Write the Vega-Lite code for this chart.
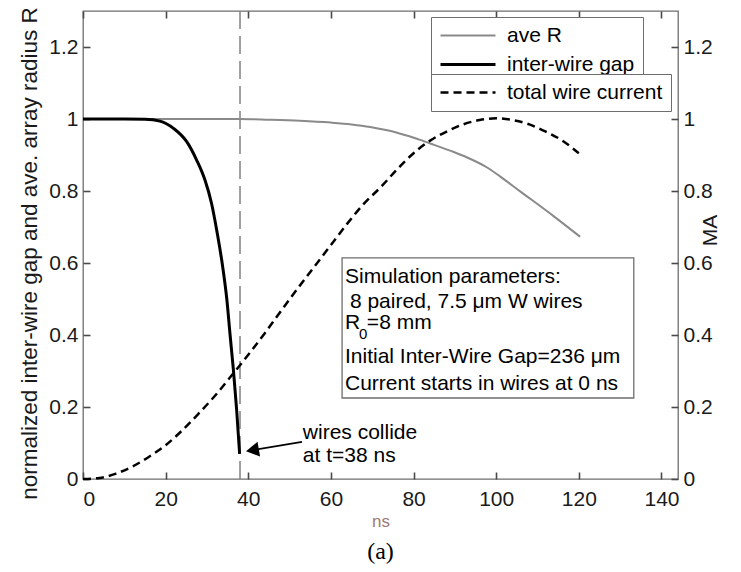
{
  "$schema": "https://vega.github.io/schema/vega-lite/v6.json",
  "width": 595,
  "height": 468,
  "autosize": {"type": "none"},
  "padding": {"left": 83, "top": 11, "right": 63, "bottom": 93},
  "background": "white",
  "title": {"text": "(a)", "orient": "bottom", "font": "Liberation Serif", "fontSize": 24, "fontWeight": "normal", "color": "black", "offset": 10},
  "config": {
    "font": "Liberation Sans",
    "view": {"stroke": "#6e6e6e", "strokeWidth": 1.3},
    "axis": {"grid": false, "domain": false, "labelFontSize": 21, "labelColor": "#1a1a1a", "labelFont": "Liberation Sans", "titleFont": "Liberation Sans", "titleFontWeight": "normal", "titleColor": "#1a1a1a"}
  },
  "datasets": {
    "curves": [
      {"t": 0, "v": 1, "series": "ave R"},
      {"t": 10, "v": 1, "series": "ave R"},
      {"t": 20, "v": 1, "series": "ave R"},
      {"t": 30, "v": 1, "series": "ave R"},
      {"t": 38, "v": 1, "series": "ave R"},
      {"t": 45, "v": 0.998, "series": "ave R"},
      {"t": 52.5, "v": 0.995, "series": "ave R"},
      {"t": 60, "v": 0.99, "series": "ave R"},
      {"t": 65, "v": 0.985, "series": "ave R"},
      {"t": 69.5, "v": 0.978, "series": "ave R"},
      {"t": 73, "v": 0.97, "series": "ave R"},
      {"t": 76, "v": 0.962, "series": "ave R"},
      {"t": 79, "v": 0.952, "series": "ave R"},
      {"t": 81.6, "v": 0.942, "series": "ave R"},
      {"t": 85, "v": 0.928, "series": "ave R"},
      {"t": 89.6, "v": 0.909, "series": "ave R"},
      {"t": 93, "v": 0.893, "series": "ave R"},
      {"t": 97.7, "v": 0.866, "series": "ave R"},
      {"t": 101, "v": 0.84, "series": "ave R"},
      {"t": 105.8, "v": 0.799, "series": "ave R"},
      {"t": 113.8, "v": 0.731, "series": "ave R"},
      {"t": 120.3, "v": 0.673, "series": "ave R"},
      {"t": 0, "v": 1, "series": "inter-wire gap"},
      {"t": 10, "v": 1, "series": "inter-wire gap"},
      {"t": 15, "v": 0.999, "series": "inter-wire gap"},
      {"t": 18.6, "v": 0.994, "series": "inter-wire gap"},
      {"t": 21.9, "v": 0.974, "series": "inter-wire gap"},
      {"t": 25.1, "v": 0.937, "series": "inter-wire gap"},
      {"t": 27.5, "v": 0.886, "series": "inter-wire gap"},
      {"t": 29.5, "v": 0.831, "series": "inter-wire gap"},
      {"t": 31.1, "v": 0.766, "series": "inter-wire gap"},
      {"t": 32.5, "v": 0.682, "series": "inter-wire gap"},
      {"t": 33.8, "v": 0.59, "series": "inter-wire gap"},
      {"t": 34.8, "v": 0.5, "series": "inter-wire gap"},
      {"t": 35.6, "v": 0.4, "series": "inter-wire gap"},
      {"t": 36.4, "v": 0.303, "series": "inter-wire gap"},
      {"t": 37.2, "v": 0.19, "series": "inter-wire gap"},
      {"t": 37.9, "v": 0.07, "series": "inter-wire gap"}
    ],
    "current": [
      {"t": 0, "v": 0, "series": "total wire current"},
      {"t": 4, "v": 0.003, "series": "total wire current"},
      {"t": 8, "v": 0.015, "series": "total wire current"},
      {"t": 12, "v": 0.035, "series": "total wire current"},
      {"t": 16, "v": 0.062, "series": "total wire current"},
      {"t": 20, "v": 0.094, "series": "total wire current"},
      {"t": 24, "v": 0.135, "series": "total wire current"},
      {"t": 28, "v": 0.182, "series": "total wire current"},
      {"t": 32, "v": 0.232, "series": "total wire current"},
      {"t": 36, "v": 0.288, "series": "total wire current"},
      {"t": 40, "v": 0.345, "series": "total wire current"},
      {"t": 44, "v": 0.405, "series": "total wire current"},
      {"t": 48, "v": 0.468, "series": "total wire current"},
      {"t": 52, "v": 0.53, "series": "total wire current"},
      {"t": 56, "v": 0.59, "series": "total wire current"},
      {"t": 60, "v": 0.65, "series": "total wire current"},
      {"t": 64, "v": 0.71, "series": "total wire current"},
      {"t": 68, "v": 0.765, "series": "total wire current"},
      {"t": 72, "v": 0.81, "series": "total wire current"},
      {"t": 76, "v": 0.86, "series": "total wire current"},
      {"t": 80, "v": 0.905, "series": "total wire current"},
      {"t": 84, "v": 0.94, "series": "total wire current"},
      {"t": 88, "v": 0.965, "series": "total wire current"},
      {"t": 92, "v": 0.985, "series": "total wire current"},
      {"t": 96, "v": 0.997, "series": "total wire current"},
      {"t": 100, "v": 1.002, "series": "total wire current"},
      {"t": 104, "v": 0.997, "series": "total wire current"},
      {"t": 108, "v": 0.985, "series": "total wire current"},
      {"t": 112, "v": 0.965, "series": "total wire current"},
      {"t": 116, "v": 0.94, "series": "total wire current"},
      {"t": 120, "v": 0.905, "series": "total wire current"}
    ],
    "marker": [{"t": 38}],
    "box": [{"t": 62.7, "t2": 133.3, "v": 0.614, "v2": 0.225}],
    "notes": [
      {"t": 63.4, "v": 0.544, "label": "Simulation parameters:"},
      {"t": 64.6, "v": 0.475, "label": "8 paired, 7.5 μm W wires"},
      {"t": 63.4, "v": 0.417, "label": "R"},
      {"t": 68.7, "v": 0.417, "label": "=8 mm"},
      {"t": 63.4, "v": 0.322, "label": "Initial Inter-Wire Gap=236 μm"},
      {"t": 63.4, "v": 0.247, "label": "Current starts in wires at 0 ns"},
      {"t": 53.2, "v": 0.111, "label": "wires collide"},
      {"t": 53.2, "v": 0.047, "label": "at t=38 ns"}
    ],
    "subs": [{"t": 66.8, "v": 0.389, "label": "0"}],
    "arrow": [{"t": 53.0, "v": 0.103, "t2": 41.0, "v2": 0.08}],
    "head": [{"t": 41.0, "v": 0.08}]
  },
  "layer": [
    {
      "layer": [
        {
          "data": {"name": "marker"},
          "mark": {"type": "rule", "color": "#808080", "strokeWidth": 1.5, "strokeDash": [18, 7]},
          "encoding": {
            "x": {"field": "t", "type": "quantitative", "scale": {"domain": [0, 144], "nice": false, "zero": false},
              "axis": {"orient": "bottom", "offset": -7, "values": [0, 20, 40, 60, 80, 100, 120, 140], "ticks": true, "tickSize": 7, "tickColor": "#4a4a4a", "tickWidth": 1.6, "labelPadding": 9, "labelAngle": 0, "title": "ns", "titleFontSize": 17, "titleColor": "#a07878", "titleY": 54.7, "titleBaseline": "alphabetic"}}
          }
        },
        {
          "data": {"name": "curves"},
          "mark": {"type": "line", "interpolate": "monotone"},
          "encoding": {
            "x": {"field": "t", "type": "quantitative"},
            "y": {"field": "v", "type": "quantitative", "scale": {"domain": [0, 1.3], "nice": false, "zero": false},
              "axis": {"orient": "left", "offset": -7, "values": [0, 0.2, 0.4, 0.6, 0.8, 1, 1.2], "format": "~g", "ticks": true, "tickSize": 7, "tickColor": "#4a4a4a", "tickWidth": 1.6, "labelPadding": 5, "title": "normalized inter-wire gap and ave. array radius R", "titleFontSize": 22.5, "titleAngle": 270, "titleX": -61, "titleY": 242, "titleAlign": "center", "titleBaseline": "middle"}},
            "color": {"field": "series", "type": "ordinal", "scale": {"domain": ["ave R", "inter-wire gap"], "range": ["#8a8a8a", "#000000"]},
              "legend": {"orient": "none", "legendX": 348, "legendY": 6, "title": null, "symbolType": "stroke", "symbolSize": 3025, "labelFontSize": 21, "labelColor": "black", "labelOffset": 10, "padding": 8, "rowPadding": 7, "clipHeight": 21, "fillColor": "white", "strokeColor": "#6e6e6e", "labelExpr": "datum.label + '\u00a0\u00a0\u00a0\u00a0\u00a0'"}},
            "strokeWidth": {"field": "series", "type": "ordinal", "scale": {"domain": ["ave R", "inter-wire gap"], "range": [2, 3]},
              "legend": {"orient": "none", "legendX": 348, "legendY": 6, "title": null, "symbolType": "stroke", "symbolSize": 3025, "labelFontSize": 21, "labelColor": "black", "labelOffset": 10, "padding": 8, "rowPadding": 7, "clipHeight": 21, "fillColor": "white", "strokeColor": "#6e6e6e", "labelExpr": "datum.label + '\u00a0\u00a0\u00a0\u00a0\u00a0'"}}
          }
        },
        {
          "data": {"name": "box"},
          "mark": {"type": "rect", "fill": "white", "stroke": "#6e6e6e", "strokeWidth": 1.3},
          "encoding": {
            "x": {"field": "t", "type": "quantitative"},
            "x2": {"field": "t2"},
            "y": {"field": "v", "type": "quantitative"},
            "y2": {"field": "v2"}
          }
        },
        {
          "data": {"name": "notes"},
          "mark": {"type": "text", "align": "left", "baseline": "alphabetic", "fontSize": 21, "color": "black"},
          "encoding": {
            "x": {"field": "t", "type": "quantitative"},
            "y": {"field": "v", "type": "quantitative"},
            "text": {"field": "label"}
          }
        },
        {
          "data": {"name": "subs"},
          "mark": {"type": "text", "align": "left", "baseline": "alphabetic", "fontSize": 15, "color": "black"},
          "encoding": {
            "x": {"field": "t", "type": "quantitative"},
            "y": {"field": "v", "type": "quantitative"},
            "text": {"field": "label"}
          }
        },
        {
          "data": {"name": "arrow"},
          "mark": {"type": "rule", "color": "black", "strokeWidth": 1.8},
          "encoding": {
            "x": {"field": "t", "type": "quantitative"},
            "y": {"field": "v", "type": "quantitative"},
            "x2": {"field": "t2"},
            "y2": {"field": "v2"}
          }
        },
        {
          "data": {"name": "head"},
          "mark": {"type": "point", "shape": "triangle-left", "filled": true, "color": "black", "opacity": 1, "size": 225, "angle": 350},
          "encoding": {
            "x": {"field": "t", "type": "quantitative"},
            "y": {"field": "v", "type": "quantitative"}
          }
        }
      ]
    },
    {
      "layer": [
        {
          "data": {"name": "current"},
          "mark": {"type": "line", "interpolate": "monotone", "color": "black", "strokeWidth": 2.5},
          "encoding": {
            "x": {"field": "t", "type": "quantitative",
              "axis": {"orient": "top", "offset": -7, "values": [0, 20, 40, 60, 80, 100, 120, 140], "ticks": true, "labels": false, "tickSize": 7, "tickColor": "#4a4a4a", "tickWidth": 1.6, "title": null}},
            "y": {"field": "v", "type": "quantitative", "scale": {"domain": [0, 1.3], "nice": false, "zero": false},
              "axis": {"orient": "right", "offset": -7, "values": [0, 0.2, 0.4, 0.6, 0.8, 1, 1.2], "format": "~g", "ticks": true, "tickSize": 7, "tickColor": "#4a4a4a", "tickWidth": 1.6, "labelPadding": 5, "title": "MA", "titleFontSize": 21, "titleAngle": 270, "titleX": 39, "titleY": 219, "titleAlign": "center", "titleBaseline": "middle"}},
            "strokeDash": {"field": "series", "type": "nominal", "scale": {"domain": ["total wire current"], "range": [[8, 5]]},
              "legend": {"orient": "none", "legendX": 348, "legendY": 63, "title": null, "symbolType": "stroke", "symbolSize": 3025, "symbolStrokeColor": "black", "symbolStrokeWidth": 2.5, "labelFontSize": 21, "labelColor": "black", "labelOffset": 10, "padding": 8, "clipHeight": 21, "fillColor": "white", "strokeColor": "#6e6e6e"}}
          }
        }
      ]
    }
  ],
  "resolve": {"scale": {"y": "independent"}, "axis": {"x": "independent"}}
}
